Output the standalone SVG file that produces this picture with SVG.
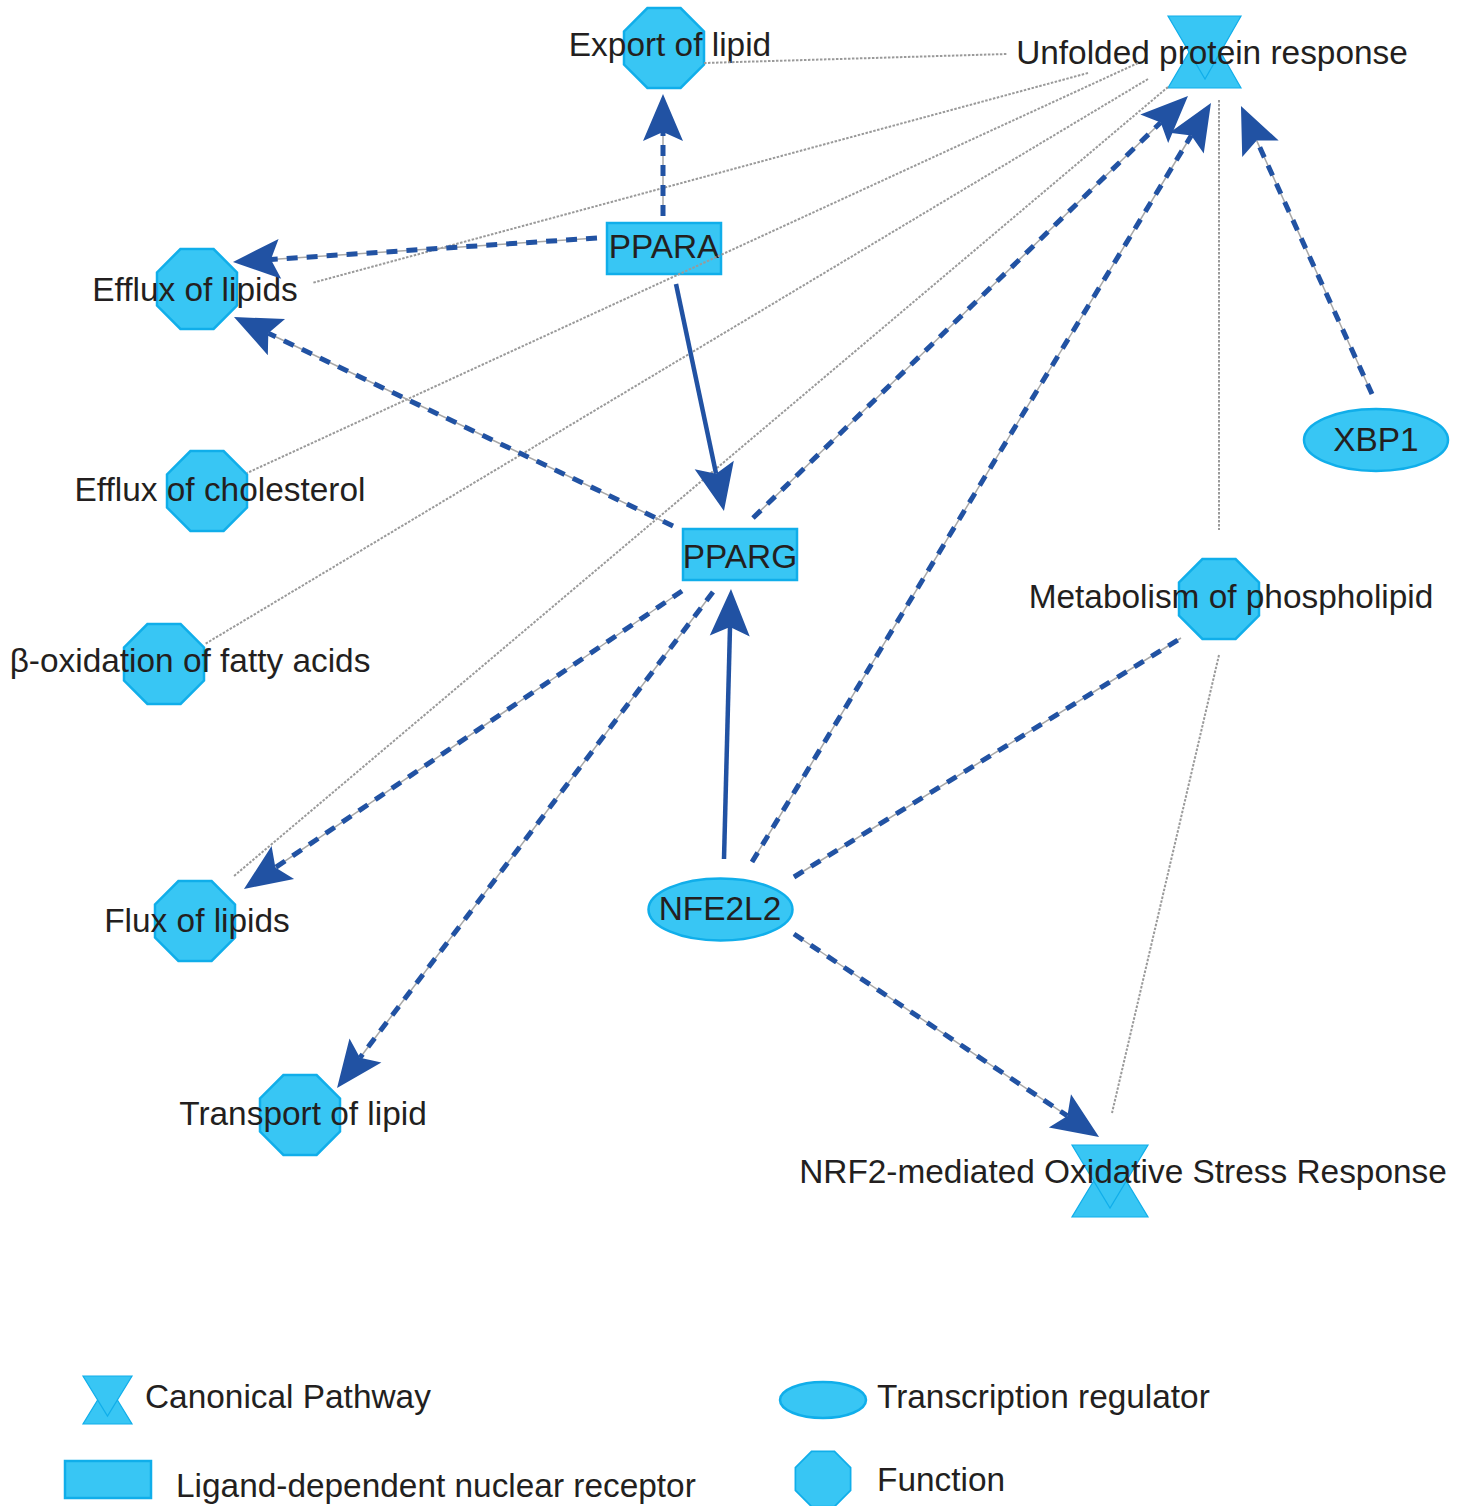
<svg xmlns="http://www.w3.org/2000/svg" xmlns:xlink="http://www.w3.org/1999/xlink" width="1468" height="1506" viewBox="0 0 1468 1506">
<style>
.n{fill:#38c6f4;stroke:#10aeea;stroke-width:2.5}
.hg{fill:#38c6f4;stroke:#10aeea;stroke-width:1.2}
text{font-family:"Liberation Sans",Arial,sans-serif;font-size:33.4px;fill:#231f20}
.c{text-anchor:middle}
.base{stroke:#a8a8a8;stroke-width:1.5;fill:none}
.dash{stroke:#2152a3;stroke-width:5;stroke-dasharray:11 9;fill:none}
.solid{stroke:#2152a3;stroke-width:4.5;fill:none}
.dot{stroke:#9a9a9a;stroke-width:2;stroke-dasharray:2.5 1.5;fill:none}
</style>
<defs>
<polygon id="oct" points="-16.6,-40 16.6,-40 40,-16.6 40,16.6 16.6,40 -16.6,40 -40,16.6 -40,-16.6"/>
<marker id="ah" markerUnits="userSpaceOnUse" orient="auto" viewBox="-10 -21 50 42" markerWidth="50" markerHeight="42" refX="0" refY="0" overflow="visible">
<path d="M38,0 L-9,-20 L0,0 L-9,20 Z" fill="#2152a3"/>
</marker>
</defs>
<rect width="1468" height="1506" fill="#ffffff"/>
<g id="nodes">
<g id="export-lipid"><use xlink:href="#oct" class="n" x="664" y="48"/><text class="c" x="670" y="56">Export of lipid</text></g>
<g id="upr"><polygon class="hg" points="1168,88 1241,88 1205,25"/><polygon class="hg" points="1168,16 1241,16 1205,79"/><text class="c" x="1212" y="64">Unfolded protein response</text></g>
<g id="efflux-lipids"><use xlink:href="#oct" class="n" x="197" y="289"/><text class="c" x="195" y="301">Efflux of lipids</text></g>
<g id="ppara"><rect class="n" x="607" y="223" width="114" height="51" stroke-width="2"/><text class="c" x="664" y="258">PPARA</text></g>
<g id="efflux-chol"><use xlink:href="#oct" class="n" x="207" y="491"/><text class="c" x="220" y="501">Efflux of cholesterol</text></g>
<g id="xbp1"><ellipse class="n" cx="1376" cy="440" rx="72" ry="31"/><text class="c" x="1376" y="451">XBP1</text></g>
<g id="pparg"><rect class="n" x="683" y="529" width="114" height="51" stroke-width="2"/><text class="c" x="740" y="568">PPARG</text></g>
<g id="metab-phos"><use xlink:href="#oct" class="n" x="1219" y="599"/><text class="c" x="1231" y="608">Metabolism of phospholipid</text></g>
<g id="box-fa"><use xlink:href="#oct" class="n" x="164" y="664"/><text class="c" x="190" y="672">β-oxidation of fatty acids</text></g>
<g id="flux-lipids"><use xlink:href="#oct" class="n" x="195" y="921"/><text class="c" x="197" y="932">Flux of lipids</text></g>
<g id="nfe2l2"><ellipse class="n" cx="720.5" cy="909.5" rx="72" ry="31"/><text class="c" x="720" y="920">NFE2L2</text></g>
<g id="transport-lipid"><use xlink:href="#oct" class="n" x="300" y="1115"/><text class="c" x="303" y="1125">Transport of lipid</text></g>
<g id="nrf2"><polygon class="hg" points="1072,1217 1148,1217 1110,1154"/><polygon class="hg" points="1072,1145 1148,1145 1110,1208"/><text class="c" x="1123" y="1183">NRF2-mediated Oxidative Stress Response</text></g>
</g>
<g id="connectors">
<path class="dot" d="M704,63 L1007,54"/>
<path class="dot" d="M1088,73 L312,283"/>
<path class="dot" d="M1138,63 L247,473"/>
<path class="dot" d="M1148,79 L205,644"/>
<path class="dot" d="M1168,87 L234,876"/>
<path class="dot" d="M1219,100 L1219,530"/>
<path class="dot" d="M1219,655 L1112,1113"/>
<path class="base" d="M663,216 L663,132"/><path class="dash" d="M663,216 L663,132" marker-end="url(#ah)"/>
<path class="base" d="M597,238 L270.9,259.5"/><path class="dash" d="M597,238 L270.9,259.5" marker-end="url(#ah)"/>
<path class="base" d="M673,526 L268.3,333.3"/><path class="dash" d="M673,526 L268.3,333.3" marker-end="url(#ah)"/>
<path class="solid" d="M676,284 L716.1,473.8" marker-end="url(#ah)"/>
<path class="base" d="M753,518 L1160.7,122.5"/><path class="dash" d="M753,518 L1160.7,122.5" marker-end="url(#ah)"/>
<path class="base" d="M752,862 L1191.3,135.5"/><path class="dash" d="M752,862 L1191.3,135.5" marker-end="url(#ah)"/>
<path class="base" d="M1372,394 L1256.7,140.6"/><path class="dash" d="M1372,394 L1256.7,140.6" marker-end="url(#ah)"/>
<path class="solid" d="M724,859 L730,627" marker-end="url(#ah)"/>
<path class="base" d="M682,591 L275.4,867.6"/><path class="dash" d="M682,591 L275.4,867.6" marker-end="url(#ah)"/>
<path class="base" d="M713,592 L360,1057.7"/><path class="dash" d="M713,592 L360,1057.7" marker-end="url(#ah)"/>
<path class="base" d="M794,877 L1181,638"/><path class="dash" d="M794,877 L1181,638"/>
<path class="base" d="M794,934 L1067.4,1115.9"/><path class="dash" d="M794,934 L1067.4,1115.9" marker-end="url(#ah)"/>
</g>
<g id="legend">
<g id="legend-canonical"><polygon class="hg" points="83,1424 132,1424 107.5,1384"/><polygon class="hg" points="83,1376 132,1376 107.5,1416"/><text x="145" y="1408">Canonical Pathway</text></g>
<g id="legend-ligand"><rect class="n" x="65" y="1461" width="86" height="37" stroke-width="2"/><text x="176" y="1497">Ligand-dependent nuclear receptor</text></g>
<g id="legend-tr"><ellipse class="n" cx="823" cy="1400" rx="43" ry="18"/><text x="877" y="1408">Transcription regulator</text></g>
<g id="legend-fn"><use xlink:href="#oct" class="n" transform="translate(823,1479) scale(0.69)"/><text x="877" y="1491">Function</text></g>
</g>
</svg>
